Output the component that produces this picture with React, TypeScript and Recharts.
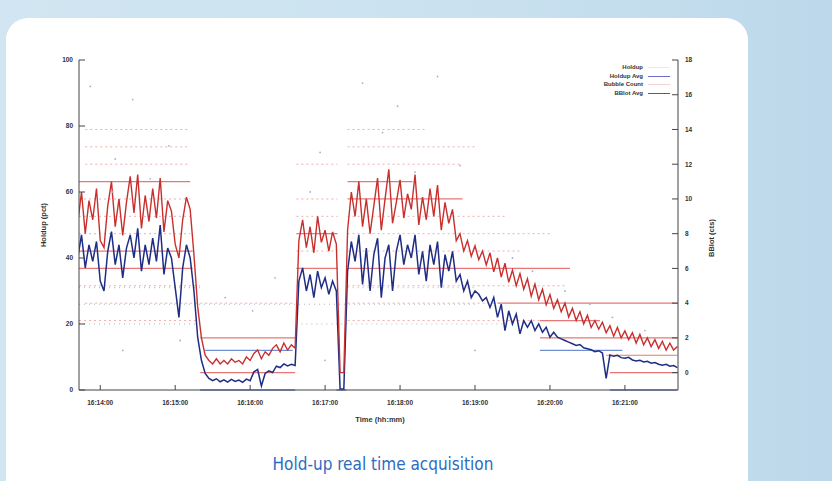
import React from "react";
import {
  ComposedChart,
  Line,
  Scatter,
  XAxis,
  YAxis,
  ReferenceLine,
} from "recharts";

// sample times are seconds after 16:14:00, one every 3 s
const T_START = -18;
const T_STEP = 3;

// Holdup Avg (pct), left axis
const holdupAvg = [
  40, 47, 37, 44, 39, 45, 33, 30, 42, 48,
  38, 44, 34, 43, 47, 40, 49, 36, 44, 38,
  46, 39, 50, 35, 43, 40, 31, 22, 37, 44,
  40, 30, 16, 9, 5, 3.5, 2.8, 3.4, 2.5, 3.1,
  2.4, 3.2, 2.6, 3.0, 2.3, 3.3, 2.8, 5.5, 6.2, 1.2,
  5.0, 5.8, 5.3, 7.2, 6.8, 7.9, 7.3, 7.8, 7.4, 33,
  37, 30, 35, 28, 36, 31, 34, 29, 33, 30,
  0.3, 0.3, 36, 45, 39, 47, 32, 43, 30, 41,
  46, 28, 40, 44, 30, 42, 47, 38, 44, 40,
  47, 35, 42, 33, 44, 38, 45, 31, 41, 36,
  42, 33, 35, 30, 33, 28, 30, 29, 27, 28,
  25, 28, 22, 26, 18, 24, 20, 23, 17, 21,
  19, 21, 18, 20, 17.5, 19, 16, 17.5, 16, 15.5,
  15, 14.5, 14, 13.5, 13.8, 12.8, 12.5, 12.2, 11.6, 11.9,
  11.2, 3.5, 10.6, 10.2, 10.5, 9.8, 9.6, 9.9, 9.1, 8.8,
  9.0, 8.5, 8.7, 8.1, 8.3, 7.8, 7.5, 7.8, 7.2, 7.4,
  6.8,
];

// BBlot Avg (cts), right axis
const bblotAvg = [
  8.6, 10.4, 8.0, 9.9, 8.8, 10.6, 7.6, 7.2, 9.6, 11.0,
  8.4, 10.0, 7.9, 9.8, 11.3, 9.2, 11.4, 8.3, 10.2, 8.7,
  10.6, 8.9, 11.2, 8.1, 9.9, 9.3, 7.4, 6.6, 8.8, 10.1,
  9.4, 6.8, 3.8, 2.0, 1.0, 0.7, 0.5, 0.8, 0.5, 0.7,
  0.5, 0.8, 0.6, 0.7, 0.5, 0.9, 0.7, 1.1, 1.3, 0.8,
  1.2, 1.0, 1.4, 1.6, 1.2, 1.7, 1.3, 1.6, 1.4, 7.6,
  8.8, 7.2, 8.4, 6.9, 9.0, 7.5, 8.2, 7.0, 8.1, 7.4,
  0, 0, 8.2, 10.4, 9.0, 11.0, 8.4, 10.0, 8.0, 9.6,
  11.2, 8.2, 10.0, 11.7, 8.6, 9.8, 11.1, 8.9, 10.3, 9.4,
  11.4, 8.5, 10.1, 8.8, 10.6, 9.0, 10.8, 8.2, 9.8, 8.6,
  9.4, 7.6, 8.0, 7.0, 7.6, 6.7, 7.3, 6.5, 7.0, 6.2,
  6.9, 5.8, 6.6, 5.5, 6.3, 5.2, 5.9, 5.0, 5.7, 4.8,
  5.4, 4.4, 5.1, 4.2, 4.8, 3.9, 4.5, 3.7, 4.2, 3.5,
  4.0, 3.2, 3.7, 3.0, 3.5, 2.8, 3.3, 2.6, 3.0, 2.5,
  2.9, 2.3, 2.7, 2.1, 2.6, 2.0, 2.4, 1.9, 2.3, 1.7,
  2.2, 1.6, 2.0, 1.5, 1.9, 1.4, 1.8, 1.3, 1.7, 1.3,
  1.5,
];

// Bubble Count rows where the counts pile up (level in cts, from/to in s)
const bubbleRowsDense = [
  { level: 11, from: -17, to: 72 },
  { level: 7, from: -17, to: 74 },
  { level: 6, from: -17, to: 74 },
  { level: 2, from: 80, to: 156 },
  { level: 0, from: 80, to: 156 },
  { level: 8, from: 157, to: 190 },
  { level: 6, from: 157, to: 190 },
  { level: 11, from: 198, to: 250 },
  { level: 10, from: 198, to: 290 },
  { level: 6, from: 198, to: 376 },
  { level: 4, from: 318, to: 462 },
  { level: 3, from: 352, to: 400 },
  { level: 2, from: 352, to: 462 },
  { level: 1, from: 405, to: 462 },
  { level: 0, from: 408, to: 462 },
];

const bubbleRowsSparse = [
  { level: 14, from: -12, to: 72 },
  { level: 13, from: -12, to: 72 },
  { level: 12, from: -12, to: 72 },
  { level: 10, from: -17, to: 72 },
  { level: 9, from: -17, to: 72 },
  { level: 8, from: -17, to: 72 },
  { level: 5, from: -17, to: 80 },
  { level: 4, from: -12, to: 156 },
  { level: 3, from: -17, to: 80 },
  { level: 12, from: 157, to: 190 },
  { level: 10, from: 157, to: 190 },
  { level: 9, from: 157, to: 190 },
  { level: 7, from: 157, to: 190 },
  { level: 14, from: 198, to: 260 },
  { level: 13, from: 198, to: 300 },
  { level: 12, from: 198, to: 290 },
  { level: 9, from: 198, to: 326 },
  { level: 8, from: 198, to: 362 },
  { level: 7, from: 198, to: 338 },
  { level: 5, from: 198, to: 374 },
  { level: 4, from: 198, to: 318 },
  { level: 3, from: 198, to: 352 },
];

// Holdup raw values that pile up in rows (pct)
const holdupRowsDense = [
  { level: 12, from: 84, to: 154 },
  { level: 0, from: 80, to: 156 },
  { level: 0, from: 189, to: 197 },
  { level: 12, from: 352, to: 418 },
  { level: 0, from: 408, to: 462 },
];

const holdupRowsSparse = [
  { level: 31, from: -17, to: 80 },
  { level: 26, from: -17, to: 300 },
  { level: 20, from: -17, to: 80 },
  { level: 20, from: 157, to: 330 },
  { level: 31, from: 198, to: 300 },
];

// scattered Holdup raw points
const holdupRaw = [
  { t: -8, h: 92 }, { t: 12, h: 70 }, { t: 26, h: 88 }, { t: 40, h: 64 },
  { t: 55, h: 74 }, { t: 64, h: 15 }, { t: 18, h: 12 }, { t: 100, h: 28 },
  { t: 122, h: 24 }, { t: 140, h: 34 }, { t: 168, h: 60 }, { t: 176, h: 72 },
  { t: 210, h: 93 }, { t: 226, h: 78 }, { t: 238, h: 86 }, { t: 252, h: 66 },
  { t: 270, h: 95 }, { t: 288, h: 68 }, { t: 330, h: 40 }, { t: 346, h: 36 },
  { t: 372, h: 30 }, { t: 392, h: 26 }, { t: 410, h: 22 }, { t: 436, h: 18 },
  { t: 10, h: 60 }, { t: 300, h: 12 }, { t: 180, h: 9 }, { t: 450, h: 14 },
];

const xTicks = [0, 60, 120, 180, 240, 300, 360, 420];
const leftTicks = [0, 20, 40, 60, 80, 100];
const rightTicks = [0, 2, 4, 6, 8, 10, 12, 14, 16, 18];

const legendItems = [
  { name: "Holdup", color: "#e4ebf5" },
  { name: "Holdup Avg", color: "#6f6fc8" },
  { name: "Bubble Count", color: "#f2d4d4" },
  { name: "BBlot Avg", color: "#c43232" },
];

const data = holdupAvg.map((h, i) => ({
  t: T_START + i * T_STEP,
  holdupAvg: h,
  bblotAvg: bblotAvg[i],
}));

const X_DOMAIN = [-17, 462.5];

const tickFont = {
  fontSize: 6.5,
  fontWeight: 700,
  fill: "#333",
  fontFamily: "Liberation Sans, Arial, sans-serif",
};

const fmtTime = (t: number) => {
  const m = 14 + Math.round(t / 60);
  return `16:${m}:00`;
};

const dot = (color: string) => (p: any) => (
  <circle cx={p.cx} cy={p.cy} r={0.9} fill={color} />
);

export default function App() {
  const label = {
    position: "absolute" as const,
    fontFamily: "Liberation Sans, Arial, sans-serif",
    fontWeight: 700,
    color: "#333",
    whiteSpace: "nowrap" as const,
  };
  return (
    <div
      style={{
        position: "fixed",
        left: 0,
        top: 0,
        width: 832,
        height: 481,
        overflow: "hidden",
        background: "linear-gradient(90deg, #d2e6f2 0%, #c9e1ef 60%, #bcd8ea 100%)",
      }}
    >
      <div
        style={{
          position: "absolute",
          left: 6,
          top: 18,
          width: 742,
          height: 500,
          background: "#fff",
          borderRadius: 22,
        }}
      />
      <div style={{ position: "absolute", left: 0, top: 0 }}>
        <ComposedChart
          width={832}
          height={481}
          data={data}
          margin={{ top: 60, right: 94, bottom: 61, left: 19 }}
        >
          <XAxis
            dataKey="t"
            type="number"
            domain={X_DOMAIN}
            allowDataOverflow
            ticks={xTicks}
            tickFormatter={fmtTime}
            tick={tickFont}
            tickSize={-5}
            tickMargin={15}
            height={30}
            stroke="#444"
          />
          <XAxis
            xAxisId="top"
            orientation="top"
            dataKey="t"
            type="number"
            domain={X_DOMAIN}
            allowDataOverflow
            ticks={xTicks}
            tickFormatter={() => ""}
            tickSize={-5}
            height={0}
            stroke="#444"
          />
          <YAxis
            yAxisId="left"
            domain={[0, 100]}
            ticks={leftTicks}
            tick={tickFont}
            tickSize={-6}
            tickMargin={12}
            width={60}
            stroke="#444"
          />
          <YAxis
            yAxisId="right"
            orientation="right"
            domain={[-1, 18]}
            ticks={rightTicks}
            tick={tickFont}
            tickSize={-6}
            tickMargin={13}
            width={60}
            stroke="#444"
          />

          {bubbleRowsSparse.map((r, i) => (
            <ReferenceLine
              key={`bs${i}`}
              yAxisId="right"
              segment={[{ x: r.from, y: r.level }, { x: r.to, y: r.level }]}
              stroke="#eb9a9a"
              strokeWidth={1}
              strokeDasharray="2 3"
              strokeOpacity={0.8}
            />
          ))}
          {holdupRowsSparse.map((r, i) => (
            <ReferenceLine
              key={`hs${i}`}
              yAxisId="left"
              segment={[{ x: r.from, y: r.level }, { x: r.to, y: r.level }]}
              stroke="#a8b4cc"
              strokeWidth={1}
              strokeDasharray="1 4"
            />
          ))}
          {bubbleRowsDense.map((r, i) => (
            <ReferenceLine
              key={`bd${i}`}
              yAxisId="right"
              segment={[{ x: r.from, y: r.level }, { x: r.to, y: r.level }]}
              stroke="#e04848"
              strokeWidth={1.2}
              strokeOpacity={0.75}
            />
          ))}
          {holdupRowsDense.map((r, i) => (
            <ReferenceLine
              key={`hd${i}`}
              yAxisId="left"
              segment={[{ x: r.from, y: r.level }, { x: r.to, y: r.level }]}
              stroke="#6f8fd2"
              strokeWidth={1.4}
            />
          ))}

          <Scatter
            yAxisId="left"
            data={holdupRaw}
            dataKey="h"
            shape={dot("#9fb0d0")}
            isAnimationActive={false}
          />
          <Line
            yAxisId="left"
            dataKey="holdupAvg"
            stroke="#1f2d84"
            strokeWidth={1.5}
            dot={false}
            isAnimationActive={false}
          />
          <Line
            yAxisId="right"
            dataKey="bblotAvg"
            stroke="#c8302e"
            strokeWidth={1.4}
            dot={false}
            isAnimationActive={false}
          />
        </ComposedChart>
      </div>

      {/* axis titles */}
      <div
        style={{
          ...label,
          fontSize: 7.5,
          left: 43,
          top: 225,
          transform: "translate(-50%, -50%) rotate(-90deg)",
        }}
      >
        Holdup (pct)
      </div>
      <div
        style={{
          ...label,
          fontSize: 7.5,
          left: 711,
          top: 238,
          transform: "translate(-50%, -50%) rotate(-90deg)",
        }}
      >
        BBlot (cts)
      </div>
      <div
        style={{
          ...label,
          fontSize: 7.5,
          left: 380,
          top: 419,
          transform: "translate(-50%, -50%)",
        }}
      >
        Time (hh:mm)
      </div>

      {/* legend */}
      {legendItems.map((it, i) => (
        <div key={it.name}>
          <div
            style={{
              ...label,
              fontSize: 6,
              right: 832 - 643,
              top: 67 + i * 8.7,
              transform: "translateY(-50%)",
            }}
          >
            {it.name}
          </div>
          <div
            style={{
              position: "absolute",
              left: 648,
              width: 22,
              top: 67 + i * 8.7,
              height: 1,
              background: it.color,
            }}
          />
        </div>
      ))}

      <div
        style={{
          position: "absolute",
          left: 383,
          top: 464,
          transform: "translate(-50%, -50%)",
          fontFamily: "Liberation Sans Narrow, DejaVu Sans Condensed, sans-serif",
          fontSize: 17,
          color: "#2b6cc0",
          whiteSpace: "nowrap",
        }}
      >
        Hold-up real time acquisition
      </div>
    </div>
  );
}
